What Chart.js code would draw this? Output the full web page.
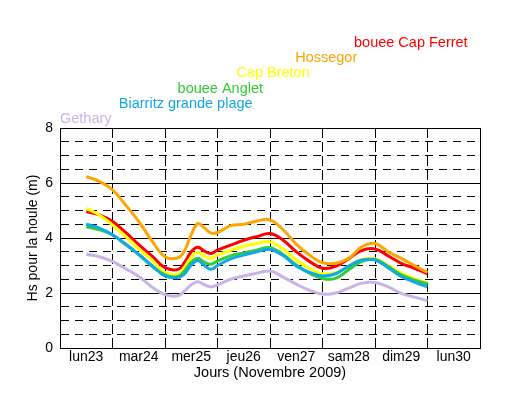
<!DOCTYPE html>
<html>
<head>
<meta charset="utf-8">
<script src="https://cdn.jsdelivr.net/npm/chart.js@4/dist/chart.umd.min.js"></script>
<style>
  html, body { margin: 0; padding: 0; background: #fff; }
  #wrap { width: 510px; height: 407px; }
</style>
</head>
<body>
<div id="wrap"><canvas id="houleChart" width="510" height="407"></canvas></div>
<script>
// time axis in days from lun23 00h
const days = [0.5, 0.75, 1, 1.25, 1.5, 1.75, 2, 2.25, 2.375, 2.5, 2.625, 2.75, 2.875, 3, 3.25, 3.5, 3.75, 4,
  4.25, 4.5, 4.75, 5, 5.25, 5.5, 5.75, 6, 6.25, 6.5, 6.75, 7];
const dayLabels = ['lun23', 'mar24', 'mer25', 'jeu26', 'ven27', 'sam28', 'dim29', 'lun30'];

const seriesNames = ['Gethary', 'Biarritz grande plage', 'bouee Anglet', 'Cap Breton', 'Hossegor', 'bouee Cap Ferret'];
const seriesColors = ['#c8b4e6', '#12a8e6', '#33cc33', '#ffff00', '#ffa500', '#ff0000'];

const gethary = [3.41, 3.32, 3.15, 2.88, 2.6, 2.22, 1.94, 1.9, 2.08, 2.3, 2.41, 2.3, 2.22, 2.3, 2.5, 2.62, 2.72, 2.8,
  2.58, 2.32, 2.1, 1.96, 2.0, 2.18, 2.36, 2.38, 2.22, 1.99, 1.85, 1.72];
const biarritz = [4.5, 4.36, 4.12, 3.78, 3.4, 3.0, 2.62, 2.56, 2.7, 3.02, 3.18, 3.0, 2.86, 3.0, 3.24, 3.38, 3.5, 3.58,
  3.36, 2.98, 2.75, 2.62, 2.7, 2.98, 3.2, 3.2, 2.92, 2.6, 2.4, 2.23];
const anglet = [4.41, 4.3, 4.11, 3.76, 3.4, 2.98, 2.66, 2.6, 2.82, 3.12, 3.26, 3.12, 3.05, 3.16, 3.35, 3.46, 3.56, 3.65,
  3.4, 3.02, 2.72, 2.53, 2.53, 2.85, 3.15, 3.22, 2.96, 2.66, 2.48, 2.33];
const capBreton = [5.08, 4.84, 4.47, 4.06, 3.6, 3.2, 2.74, 2.68, 2.94, 3.3, 3.48, 3.34, 3.26, 3.38, 3.55, 3.7, 3.8, 3.86,
  3.6, 3.2, 2.9, 2.7, 2.74, 2.98, 3.22, 3.25, 3.0, 2.72, 2.52, 2.36];
const hossegor = [6.23, 6.06, 5.75, 5.2, 4.6, 3.9, 3.32, 3.28, 3.55, 4.12, 4.52, 4.37, 4.18, 4.2, 4.45, 4.5, 4.62, 4.66,
  4.3, 3.78, 3.38, 3.1, 3.08, 3.26, 3.68, 3.8, 3.5, 3.26, 3.0, 2.75];
const capFerret = [4.96, 4.84, 4.6, 4.2, 3.76, 3.35, 2.92, 2.86, 3.12, 3.5, 3.66, 3.52, 3.44, 3.56, 3.74, 3.92, 4.05, 4.16,
  3.92, 3.5, 3.15, 2.9, 2.97, 3.25, 3.55, 3.6, 3.35, 3.08, 2.9, 2.7];

const allSeries = [gethary, biarritz, anglet, capBreton, hossegor, capFerret];
const FONT = '"Liberation Sans", Arial, Helvetica, sans-serif';

// names stacked diagonally above the plot
const stackedLegend = {
  id: 'stackedLegend',
  afterDraw(chart) {
    const c = chart.ctx;
    c.save();
    c.font = '14.5px ' + FONT;
    c.textAlign = 'left';
    c.textBaseline = 'alphabetic';
    seriesNames.forEach((name, i) => {
      c.fillStyle = seriesColors[i];
      c.fillText(name, 60 + 58.8 * i, 123.3 - 15.3 * i);
    });
    c.restore();
  }
};

const whiteBg = {
  id: 'whiteBg',
  beforeDraw(chart) {
    const c = chart.ctx;
    c.save();
    c.fillStyle = '#fff';
    c.fillRect(0, 0, chart.width, chart.height);
    c.restore();
  }
};

const ctx = document.getElementById('houleChart').getContext('2d');
const myChart = new Chart(ctx, {
  type: 'line',
  data: {
    datasets: allSeries.map((arr, i) => ({
      label: seriesNames[i],
      data: days.map((d, j) => ({ x: d, y: arr[j] })),
      borderColor: seriesColors[i],
      backgroundColor: seriesColors[i],
      borderWidth: 3,
      pointRadius: 0,
      fill: false,
      tension: 0.4
    }))
  },
  options: {
    responsive: false,
    animation: false,
    layout: { padding: { left: 0, top: 128, right: 30, bottom: 0 } },
    plugins: {
      legend: { display: false },
      tooltip: { enabled: false }
    },
    scales: {
      x: {
        type: 'linear',
        position: 'bottom',
        min: 0,
        max: 8,
        weight: 0,
        ticks: { display: false, stepSize: 1 },
        grid: { color: '#000', lineWidth: 1, drawTicks: false },
        border: {
          display: true,
          color: '#000',
          dash: c => (c.tick && c.tick.value > 0 && c.tick.value < 8) ? [10, 4] : []
        },
        afterFit: s => { s.height = 0; }
      },
      xl: {
        type: 'linear',
        position: 'bottom',
        min: 0,
        max: 8,
        weight: 1,
        afterBuildTicks: s => { s.ticks = dayLabels.map((l, i) => ({ value: i + 0.5 })); },
        ticks: {
          autoSkip: false,
          maxRotation: 0,
          padding: 1,
          color: '#000',
          font: { family: FONT, size: 14 },
          callback: (v, i) => dayLabels[i]
        },
        grid: { display: false, drawTicks: false },
        border: { display: false },
        title: {
          display: true,
          text: 'Jours (Novembre 2009)',
          color: '#000',
          font: { family: FONT, size: 14.5 },
          padding: { top: 0, bottom: 25 }
        },
        afterFit: s => { s.height = 59; }
      },
      y: {
        min: 0,
        max: 8,
        ticks: {
          stepSize: 0.5,
          autoSkip: false,
          padding: 7,
          color: '#000',
          font: { family: FONT, size: 14 },
          callback: v => (v % 2 === 0 ? String(v) : '')
        },
        grid: { color: '#000', lineWidth: 1, drawTicks: false },
        border: {
          display: true,
          color: '#000',
          dash: c => (c.tick && c.tick.value % 2 !== 0) ? [8, 6] : []
        },
        title: {
          display: true,
          text: 'Hs pour la houle (m)',
          color: '#000',
          font: { family: FONT, size: 14 },
          padding: { top: 25, bottom: 0 }
        },
        afterFit: s => { s.width = 60; }
      }
    }
  },
  plugins: [whiteBg, stackedLegend]
});
</script>
</body>
</html>
